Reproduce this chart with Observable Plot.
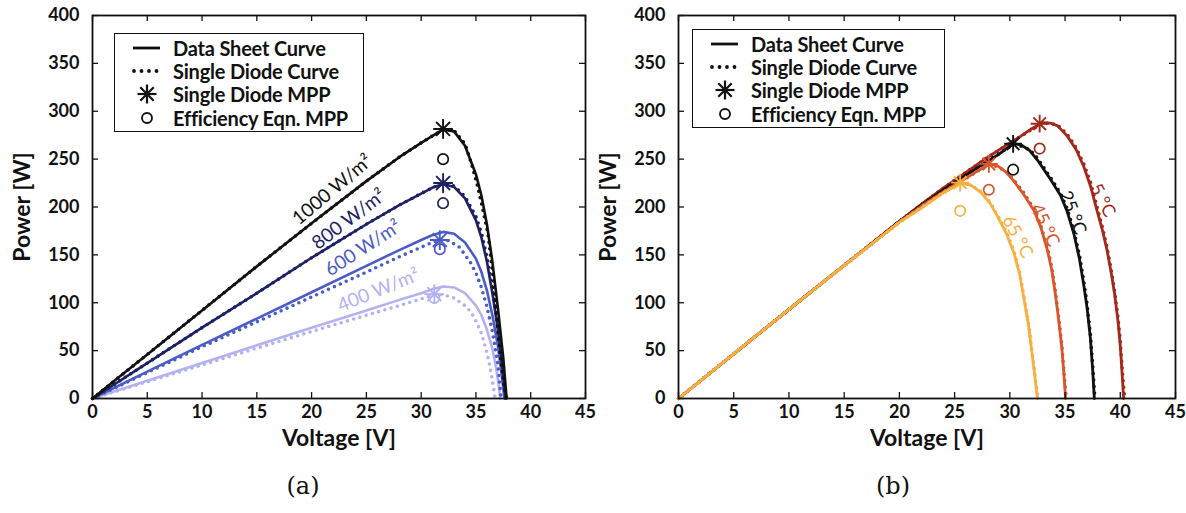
<!DOCTYPE html>
<html><head><meta charset="utf-8">
<script src="https://cdn.jsdelivr.net/npm/d3@7"></script>
<script src="https://cdn.jsdelivr.net/npm/@observablehq/plot@0.6"></script>
<style>
body{margin:0;background:#fff;font-family:Lato,"Open Sans",sans-serif;color:#111;}
#wrap{position:relative;width:1186px;height:513px;overflow:hidden;background:#fff;}
.panel{position:absolute;top:0;width:593px;height:460px;}
.panel svg{overflow:visible;}
.legend{position:absolute;border:1.6px solid #111;background:#fff;padding:2px 0 2px 0;box-sizing:border-box;}
.row{display:flex;align-items:center;height:23.3px;font-weight:bold;font-size:20px;white-space:nowrap;letter-spacing:-0.2px;}
.row svg{width:46px;height:20px;flex:none;margin-left:12px;}
.cap{position:absolute;top:472px;font-family:"DejaVu Serif","Liberation Serif",serif;font-size:24px;transform:translateX(-50%);}
</style></head>
<body><div id="wrap"></div>
<script>
// ---------- data: panel (a) irradiance ----------
const xTicks = [0,5,10,15,20,25,30,35,40,45];
const yTicks = [0,50,100,150,200,250,300,350,400];

const ds1000 = [[0,0],[2,18.5],[5,46],[10,92],[15,138],[20,183],[25,227],[28,252],[30,267],[31,274],[32,281],[33,279],[34,264],[35,234],[35.5,212],[36,182],[36.5,143],[37,95],[37.5,42],[37.8,0]];
const sd1000 = [[0,0],[5,46],[10,92],[15,138],[20,183],[25,227],[28,252],[30,267],[31,274],[32,281],[33,280],[34,266],[34.6,245],[35.1,224],[35.6,199],[36.1,172],[36.6,124],[37.1,58],[37.5,18],[37.8,0]];
const ds800 = [[0,0],[5,37],[10,74],[15,110],[20,147],[25,182],[28,202],[30,214],[31,220],[32,224],[33,221],[34,209],[35,186],[35.5,168],[36,143],[36.5,110],[37,72],[37.4,35],[37.7,0]];
const sd800 = [[0,0],[5,37],[10,74],[15,110],[20,147],[25,182],[28,202],[30,214],[31,220],[32,225],[33,222],[34,211],[35,190],[35.5,173],[36,148],[36.5,114],[37,74],[37.4,36],[37.75,0]];
const ds600 = [[0,0],[5,28],[10,56],[15,83.5],[20,111],[25,138.5],[28,155],[30,165.5],[31,170.5],[32,174],[33,172],[34,163],[35,146],[35.5,132],[36,113],[36.5,87],[37,55],[37.3,30],[37.6,0]];
const sd600 = [[0,0],[5,27],[10,54],[15,80],[20,106],[25,132],[28,148],[30,158],[31,163],[31.7,165.5],[32.5,165],[33.5,158],[34.5,142],[35,131],[35.5,116],[36,96],[36.5,70],[37,36],[37.3,0]];
const ds400 = [[0,0],[5,18.5],[10,37],[15,55.5],[20,74],[25,92],[28,103],[30,110],[31,114],[32,117],[33,116],[34,110],[35,97],[35.5,87],[36,72],[36.5,52],[36.8,35],[37.1,12],[37.2,0]];
const sd400 = [[0,0],[5,17.5],[10,35],[15,52.5],[20,70],[25,87],[28,97],[30,104],[31,108],[32,108.5],[33,105],[34,97],[34.5,91],[35,81],[35.5,68],[36,48],[36.3,32],[36.6,12],[36.75,0]];

const irrNames  = ["400 W/m²","600 W/m²","800 W/m²","1000 W/m²"];
const irrColors = ["#b4b1f2","#4b5cc6","#1d2164","#111111"];
const irrStarV  = [31.2, 31.7, 32.0, 32.0];
const irrStarP  = [109, 165.5, 225, 281.5];
const irrCircV  = [31.2, 31.7, 32.0, 32.0];
const irrCircP  = [105, 156, 204, 250];
const irrLabelV = [26.1, 24.7, 23.4, 21.9];
const irrLabelP = [113, 157, 187, 218];
const irrLabelRot = [-22, -33, -37, -40];

// ---------- data: panel (b) temperature ----------
const ds5 = [[0,0],[5,46.5],[10,93],[15,139],[20,185],[22,203],[24,220],[26,236],[28,252],[30,267],[31,274],[32,282],[33,288],[33.7,287.5],[34.3,285],[35.2,274],[36,260],[36.7,242],[37.3,222],[37.9,196],[38.4,175],[38.8,155],[39.2,130],[39.5,108],[39.8,80],[40,55],[40.2,20],[40.3,0]];
const sd5 = [[0,0],[10,93],[20,185],[24,220],[28,252],[31,274],[33,288],[34.3,286],[35.2,276],[36,262],[36.7,245],[37.3,226],[37.9,200],[38.4,178],[38.8,158],[39.2,133],[39.5,111],[39.8,84],[40,60],[40.2,27],[40.4,0]];
const ds25 = [[0,0],[5,46.5],[10,93],[15,139],[20,185],[22,202],[24,218],[26,233],[28,248],[29,255],[29.8,262],[30.4,266],[31,265],[31.8,259],[32.5,249],[33.5,232],[34.6,212],[35.2,195],[35.8,172],[36.3,146],[36.7,118],[37,94],[37.3,62],[37.5,30],[37.65,0]];
const sd25 = [[0,0],[10,93],[20,185],[24,218],[28,248],[30.4,266],[31.8,260],[32.5,251],[33.5,234],[34.6,214],[35.2,198],[35.8,175],[36.3,150],[36.7,122],[37,98],[37.3,66],[37.5,35],[37.7,0]];
const ds45 = [[0,0],[5,46.5],[10,93],[15,139],[20,184.5],[22,201],[24,216],[26,230],[27,237],[27.7,242],[28.2,245],[28.9,243],[29.6,237],[30.3,228],[31.2,214],[32.2,196],[32.8,179],[33.4,155],[33.8,134],[34.1,111],[34.4,84],[34.7,54],[34.9,25],[35.05,0]];
const sd45 = [[0,0],[10,93],[20,184.5],[24,216],[28.2,245],[29.6,238],[30.3,229],[31.2,216],[32.2,198],[32.8,181],[33.4,158],[33.8,137],[34.1,114],[34.4,87],[34.7,57],[34.9,28],[35.1,0]];
const ds65 = [[0,0],[5,46.5],[10,93],[15,139],[20,184],[22,199],[23,207],[24,215],[25,221.5],[25.6,225],[26.5,222.5],[27.4,215],[28.2,204],[28.9,190],[29.7,172],[30.4,151],[30.9,129],[31.3,103],[31.7,76],[32,48],[32.3,20],[32.5,0]];
const sd65 = [[0,0],[10,93],[20,184],[24,215],[25.6,225],[26.5,223],[27.4,216],[28.2,205],[28.9,191],[29.7,174],[30.4,153],[30.9,131],[31.3,105],[31.7,78],[32,50],[32.3,22],[32.55,0]];

const tmpNames  = ["5 °C","25 °C","45 °C","65 °C"];
const tmpColors = ["#a3281c","#111111","#d9552b","#f6b041"];
const tmpStarV  = [32.7, 30.3, 28.1, 25.5];
const tmpStarP  = [287, 266, 245, 225.5];
const tmpCircV  = [32.7, 30.3, 28.1, 25.5];
const tmpCircP  = [261, 239, 218, 196];
const tmpLabelV = [38.4, 35.7, 33.2, 30.7];
const tmpLabelP = [207, 194, 181, 169];
const tmpLabelRot = [62, 69, 65, 62];
const tmpLabelWeight = ["normal","bold","normal","normal"];

const legendItems = ["Data Sheet Curve","Single Diode Curve","Single Diode MPP","Efficiency Eqn. MPP"];

// ---------- build ----------
const W = 593, H = 460, MT = 15, MB = 62;
function panel(o) {
  const innerW = W - o.ml - o.mr, innerH = H - MT - MB;
  const marks = [];
  o.series.forEach(s => {
    marks.push(Plot.line(s.ds, {x: d => d[0], y: d => d[1], stroke: s.color, strokeWidth: o.lw}));
    marks.push(Plot.line(s.sd, {x: d => d[0], y: d => d[1], stroke: s.color, strokeWidth: 3.6, strokeDasharray: "0 6.5", strokeLinecap: "round"}));
  });
  const pts = o.series.map((s,i) => ({sv: o.starV[i], sp: o.starP[i], cv: o.circV[i], cp: o.circP[i], color: s.color,
      lv: o.labelV[i], lp: o.labelP[i], rot: o.labelRot[i], name: o.names[i], fw: o.labelWeight[i]}));
  marks.push(Plot.dot(pts, {x: "cv", y: "cp", r: 5.2, stroke: "color", fill: "none", strokeWidth: 1.7, symbol: "circle"}));
  marks.push(Plot.dot(pts, {x: "sv", y: "sp", r: o.starR, stroke: "color", strokeWidth: 1.9, symbol: "plus"}));
  marks.push(Plot.dot(pts, {x: "sv", y: "sp", r: o.starR, stroke: "color", strokeWidth: 1.9, symbol: "times"}));
  marks.push(Plot.text(pts, {x: "lv", y: "lp", text: "name", rotate: "rot", fill: "color", fontSize: o.labelSize, fontWeight: "fw", textAnchor: "middle"}));
  marks.push(Plot.tickX(xTicks, {x: d => d, insetTop: innerH - 6, stroke: "#111", strokeWidth: 1.3}));
  marks.push(Plot.tickX(xTicks, {x: d => d, insetBottom: innerH - 6, stroke: "#111", strokeWidth: 1.3}));
  marks.push(Plot.tickY(yTicks, {y: d => d, insetRight: innerW - 6, stroke: "#111", strokeWidth: 1.3}));
  marks.push(Plot.tickY(yTicks, {y: d => d, insetLeft: innerW - 6, stroke: "#111", strokeWidth: 1.3}));
  marks.push(Plot.frame({stroke: "#111", strokeWidth: 1.8}));
  marks.push(Plot.axisX({ticks: xTicks, tickSize: 0, tickPadding: 7, fontSize: 18, fontWeight: "bold", label: null}));
  marks.push(Plot.axisY({ticks: yTicks, tickSize: 0, tickPadding: 13, fontSize: 18, fontWeight: "bold", label: null}));
  marks.push(Plot.text(["Voltage [V]"], {frameAnchor: "bottom", dy: 47, fontSize: 23, fontWeight: "bold", textAnchor: "middle"}));
  marks.push(Plot.text(["Power [W]"], {frameAnchor: "left", dx: -70, rotate: -90, fontSize: 23, fontWeight: "bold", textAnchor: "middle"}));
  return Plot.plot({
    width: W, height: H, marginLeft: o.ml, marginRight: o.mr, marginTop: MT, marginBottom: MB,
    x: {domain: [0,45]}, y: {domain: [0,400]},
    style: {fontFamily: "Lato, 'Open Sans', sans-serif", color: "#111", overflow: "visible", background: "transparent"},
    marks
  });
}

const irrSeries = [
  {ds: ds400, sd: sd400}, {ds: ds600, sd: sd600}, {ds: ds800, sd: sd800}, {ds: ds1000, sd: sd1000}
].map((s,i) => ({...s, color: irrColors[i]}));
const tmpSeries = [
  {ds: ds5, sd: sd5}, {ds: ds25, sd: sd25}, {ds: ds45, sd: sd45}, {ds: ds65, sd: sd65}
].map((s,i) => ({...s, color: tmpColors[i]}));

const wrap = document.getElementById("wrap");
function place(el, left) { const d = document.createElement("div"); d.className = "panel"; d.style.left = left + "px"; d.appendChild(el); wrap.appendChild(d); }
place(panel({ml: 92, mr: 8, lw: 2.6, starR: 6.4, labelSize: 19, series: irrSeries, names: irrNames, starV: irrStarV, starP: irrStarP, circV: irrCircV, circP: irrCircP,
  labelV: irrLabelV, labelP: irrLabelP, labelRot: irrLabelRot, labelWeight: ["normal","600","bold","bold"]}), 0);
place(panel({ml: 85, mr: 11, lw: 2.8, starR: 5.8, labelSize: 18, series: tmpSeries, names: tmpNames, starV: tmpStarV, starP: tmpStarP, circV: tmpCircV, circP: tmpCircP,
  labelV: tmpLabelV, labelP: tmpLabelP, labelRot: tmpLabelRot, labelWeight: tmpLabelWeight}), 593);

// legends
const symbols = [
  '<line x1="6" y1="10" x2="33" y2="10" stroke="#111" stroke-width="2.8"/>',
  '<line x1="7" y1="10" x2="33" y2="10" stroke="#111" stroke-width="3.8" stroke-dasharray="0 7.5" stroke-linecap="round"/>',
  '<g stroke="#111" stroke-width="2.2"><line x1="20" y1="0.5" x2="20" y2="19.5"/><line x1="10.5" y1="10" x2="29.5" y2="10"/><line x1="13.3" y1="3.3" x2="26.7" y2="16.7"/><line x1="13.3" y1="16.7" x2="26.7" y2="3.3"/></g>',
  '<circle cx="20" cy="10" r="5" fill="none" stroke="#111" stroke-width="1.9"/>'
];
function legend(left, top, width) {
  const d = document.createElement("div");
  d.className = "legend";
  d.style.left = left + "px"; d.style.top = top + "px"; d.style.width = width + "px";
  legendItems.forEach((t,i) => {
    const r = document.createElement("div"); r.className = "row";
    r.innerHTML = '<svg viewBox="0 0 46 20">' + symbols[i] + '</svg><span>' + t + '</span>';
    d.appendChild(r);
  });
  wrap.appendChild(d);
}
legend(114, 33, 250);
legend(692, 29, 253);

// captions
[["(a)", 303], ["(b)", 893]].forEach(([t,x]) => {
  const c = document.createElement("div"); c.className = "cap"; c.style.left = x + "px"; c.textContent = t; wrap.appendChild(c);
});
</script></body></html>
